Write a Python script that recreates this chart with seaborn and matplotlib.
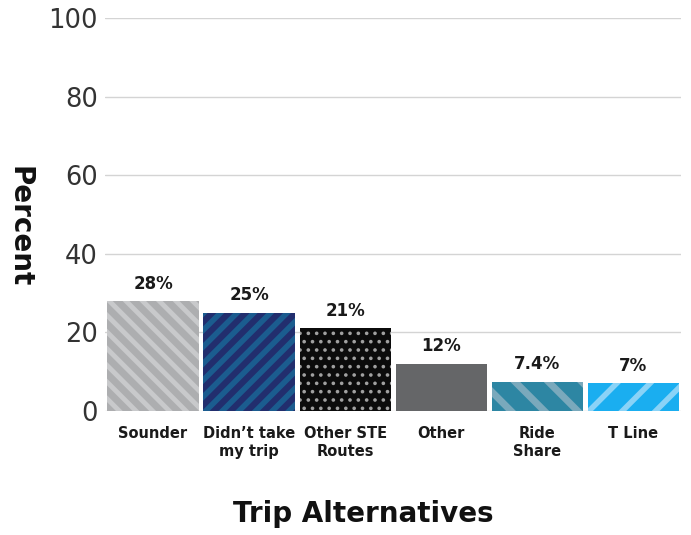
import numpy as np
import pandas as pd
import seaborn as sns
import matplotlib.pyplot as plt

categories = ["Sounder", "Didn\u2019t take\nmy trip", "Other STE\nRoutes", "Other", "Ride\nShare", "T Line"]
percent = [28, 25, 21, 12, 7.4, 7]
value_labels = ["28%", "25%", "21%", "12%", "7.4%", "7%"]
base_colors = ["#c8c9cb", "#222e6e", "#0b0b0b", "#656668", "#2d86a3", "#1aaef0"]
hatch_colors = ["#adaeb0", "#1b5c8f", "#a0a0a0", "#656668", "#7aa9bc", "#8ad3f7"]
hatches = ["\\\\", "//", "..", "", "\\", "/"]
hatch_widths = [5, 4, 1.4, 1, 5, 4]

sns.set_theme(style="white")
plt.rcParams['font.family'] = ['DejaVu Sans']
plt.rcParams['hatch.linewidth'] = 4

df = pd.DataFrame({"alt": categories, "pct": percent})

fig, ax = plt.subplots(figsize=(6.91, 5.35), dpi=100)
fig.subplots_adjust(left=0.152, right=0.986, top=0.966, bottom=0.232)

sns.barplot(data=df, x="alt", y="pct", hue="alt", palette=base_colors,
            width=0.95, saturation=1, legend=False, ax=ax)

# hatch colour follows the edge colour; no visible outline
for bar, hc, h, hw in zip(ax.patches, hatch_colors, hatches, hatch_widths):
    bar.set_edgecolor(hc)
    bar.set_linewidth(0)
    bar.set_hatch(h)
    if hasattr(bar, "set_hatch_linewidth"):
        bar.set_hatch_linewidth(hw)

for cont, lab in zip(ax.containers, value_labels):
    ax.bar_label(cont, labels=[lab], padding=6, fontsize=12, fontweight="bold", color="#1a1a1a")

ax.set_ylim(0, 100)
ax.set_yticks(np.arange(0, 101, 20))
ax.grid(axis="y", color="#d4d4d4", linewidth=1)
ax.set_axisbelow(True)
for s in ax.spines.values():
    s.set_visible(False)
ax.tick_params(axis="y", length=0, pad=5, labelsize=18.5, labelcolor="#333333")
ax.tick_params(axis="x", length=0, pad=11, labelsize=10.5, labelcolor="#1a1a1a")
for t in ax.get_xticklabels():
    t.set_fontweight("bold")

ax.set_ylabel("Percent", rotation=-90, fontsize=20, fontweight="bold", va="center", color="#111111")
ax.yaxis.set_label_coords(-0.148, 0.47)
ax.set_xlabel("Trip Alternatives", fontsize=20, fontweight="bold", va="center", color="#111111")
ax.xaxis.set_label_coords(0.448, -0.262)

fig.savefig("out.png", dpi=100)
